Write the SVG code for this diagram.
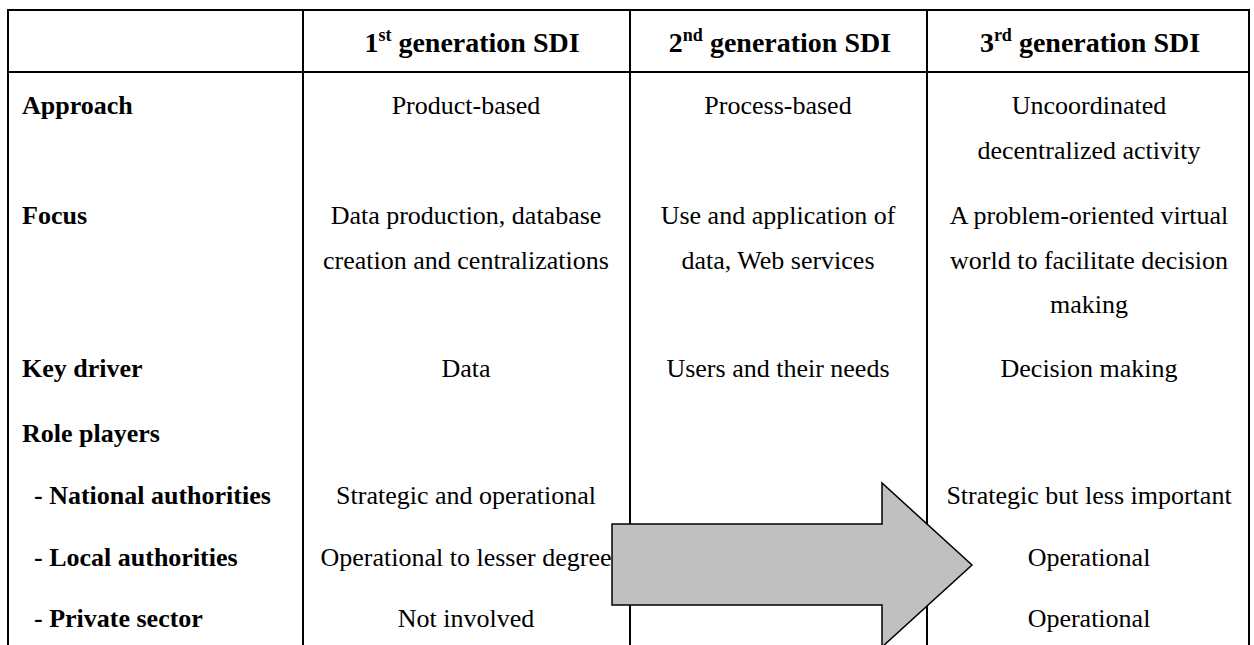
<svg xmlns="http://www.w3.org/2000/svg" width="1254" height="645" viewBox="0 0 1254 645">
<style>
text{font-family:"Liberation Serif","Times New Roman",serif;font-size:26px;fill:#000}
.b{font-weight:bold}
.h{font-size:28px}
.c1,.c2,.c3{text-anchor:middle}
.sup{font-size:18px}
.grid line{stroke:#000;stroke-width:2}
</style>
<rect width="1254" height="645" fill="#fff"/>
<g id="grid" class="grid">
<line x1="7" y1="10" x2="1250" y2="10"/>
<line x1="7" y1="72" x2="1250" y2="72"/>
<line x1="8" y1="9" x2="8" y2="645"/>
<line x1="303" y1="9" x2="303" y2="645"/>
<line x1="630" y1="9" x2="630" y2="645"/>
<line x1="927" y1="9" x2="927" y2="645"/>
<line x1="1249" y1="9" x2="1249" y2="645"/>
</g>
<g id="header">
<text class="b h c1" x="472" y="52">1<tspan class="sup" dy="-11">st</tspan><tspan dy="11"> generation SDI</tspan></text>
<text class="b h c2" x="780" y="52">2<tspan class="sup" dy="-11">nd</tspan><tspan dy="11"> generation SDI</tspan></text>
<text class="b h c3" x="1090" y="52">3<tspan class="sup" dy="-11">rd</tspan><tspan dy="11"> generation SDI</tspan></text>
</g>
<g id="row-approach">
<text class="b" x="22" y="114">Approach</text>
<text class="c1" x="466" y="114">Product-based</text>
<text class="c2" x="778" y="114">Process-based</text>
<text class="c3" x="1089" y="114">Uncoordinated</text>
<text class="c3" x="1089" y="159">decentralized activity</text>
</g>
<g id="row-focus">
<text class="b" x="22" y="224">Focus</text>
<text class="c1" x="466" y="224">Data production, database</text>
<text class="c1" x="466" y="269">creation and centralizations</text>
<text class="c2" x="778" y="224">Use and application of</text>
<text class="c2" x="778" y="269">data, Web services</text>
<text class="c3" x="1089" y="224">A problem-oriented virtual</text>
<text class="c3" x="1089" y="269">world to facilitate decision</text>
<text class="c3" x="1089" y="313">making</text>
</g>
<g id="row-keydriver">
<text class="b" x="22" y="377">Key driver</text>
<text class="c1" x="466" y="377">Data</text>
<text class="c2" x="778" y="377">Users and their needs</text>
<text class="c3" x="1089" y="377">Decision making</text>
</g>
<g id="row-roleplayers">
<text class="b" x="22" y="442">Role players</text>
</g>
<g id="row-national">
<text class="b" x="34" y="504">- National authorities</text>
<text class="c1" x="466" y="504">Strategic and operational</text>
<text class="c3" x="1089" y="504">Strategic but less important</text>
</g>
<g id="row-local">
<text class="b" x="34" y="566">- Local authorities</text>
<text class="c1" x="466" y="566">Operational to lesser degree</text>
<text class="c3" x="1089" y="566">Operational</text>
</g>
<g id="row-private">
<text class="b" x="34" y="627">- Private sector</text>
<text class="c1" x="466" y="627">Not involved</text>
<text class="c3" x="1089" y="627">Operational</text>
</g>
<g id="arrow">
<polygon points="612,524 882,524 882,483 972,565 882,647 882,605 612,605" fill="#c0c0c0" stroke="#000" stroke-width="1.5" stroke-linejoin="miter"/>
</g>
</svg>
